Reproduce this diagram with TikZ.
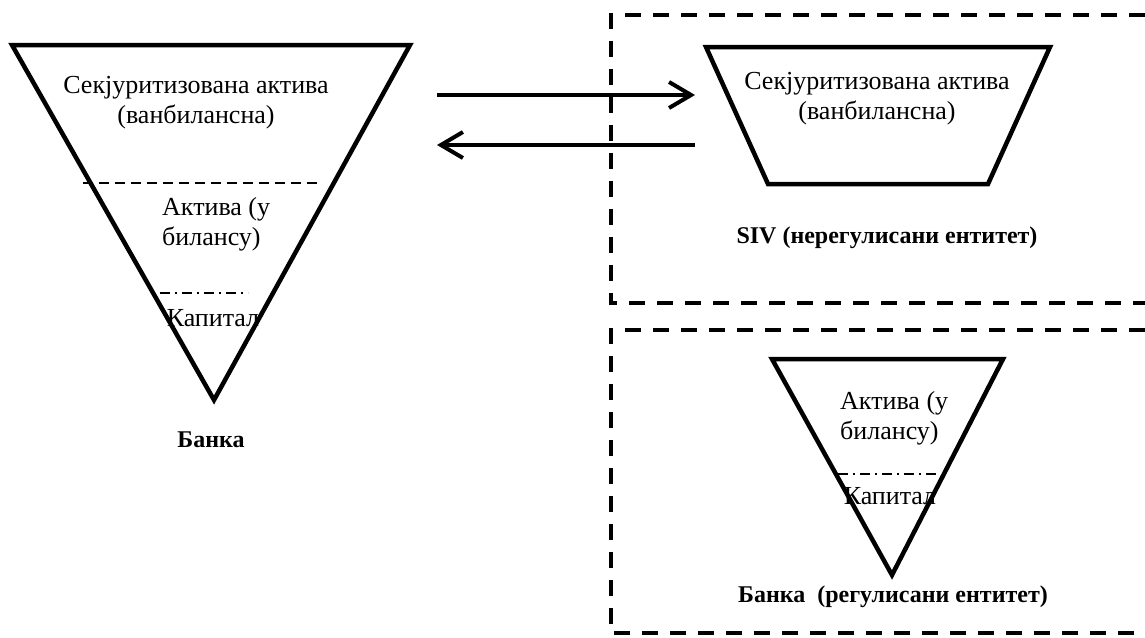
\documentclass[tikz,border=0pt]{standalone}
\usepackage{fontspec}
\setmainfont{Liberation Serif}
\usetikzlibrary{arrows.meta,positioning,calc}

\begin{document}
\begin{tikzpicture}[x=1pt, y=-1pt,
    body/.style={draw, line width=4.5pt, line join=miter},
    sepline/.style={line width=2pt, dash pattern=on 10pt off 6pt},
    capline/.style={line width=2pt, dash pattern=on 10pt off 5pt on 2pt off 5pt},
    boxline/.style={line width=3.5pt, dash pattern=on 16pt off 12pt},
    txt/.style={inner sep=0pt, align=center, font=\fontsize{26}{30}\selectfont},
    ttl/.style={inner sep=0pt, align=center, font=\fontsize{24}{28}\selectfont\bfseries},
    arr/.style={-{Straight Barb[length=22pt, width=26pt, line width=4pt]}, line width=4pt}
]
\useasboundingbox (0,0) rectangle (1145,637);

\coordinate (bl) at (12,45);
\coordinate (br) at (410,45);
\coordinate (bt) at (214,400);
\draw[body] (bl) -- (br) -- (bt) -- cycle;
\node[txt] (sec) at (196,103) {Секјуритизована актива\\(ванбилансна)};
\draw[sepline] (83,183) -- (321,183);
\node[txt, align=left, anchor=west] (akt) at (162,224) {Актива (у\\билансу)};
\draw[capline] (160,293) -- (248,293);
\node[txt] (kap) at (213,318) {Капитал};
\node[ttl] (bank) at (211,440) {Банка};

\draw[boxline] (1145,15) -- (611,15) -- (611,303) -- (1145,303);
\draw[body] (706,47) -- (1050,47) -- (988,184) -- (768,184) -- cycle;
\node[txt] (siva) at (877,99) {Секјуритизована актива\\(ванбилансна)};
\node[ttl] (siv) at (887,238) {SIV (нерегулисани ентитет)};

\coordinate (a1) at (437,95);
\coordinate (b1) at (695,95);
\coordinate (a2) at (695,145);
\coordinate (b2) at (437,145);
\draw[arr] (a1) -- (b1);
\draw[arr] (a2) -- (b2);

\draw[boxline] (1145,330) -- (611,330) -- (611,633) -- (1145,633);
\coordinate (rl) at (772,359);
\coordinate (rr) at (1003,359);
\coordinate (rt) at (892,575);
\draw[body] (rl) -- (rr) -- (rt) -- cycle;
\node[txt, align=left, anchor=west] (rakt) at (840,418) {Актива (у\\билансу)};
\draw[capline] (838,474) -- (940,474);
\node[txt] (rkap) at (890,496) {Капитал};
\node[ttl] (rbank) at (893,597) {Банка\ \ (регулисани ентитет)};
\end{tikzpicture}
\end{document}
